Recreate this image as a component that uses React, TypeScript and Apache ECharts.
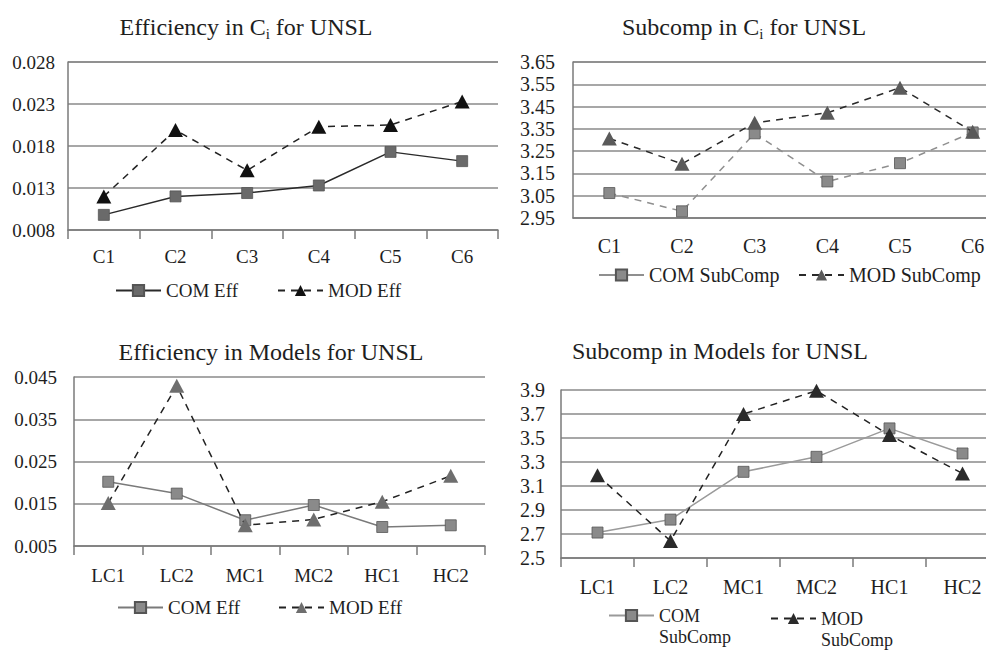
import React, { useEffect, useRef } from 'react';
import * as echarts from 'echarts';

// ---- Data ----
const ciCategories = ['C1', 'C2', 'C3', 'C4', 'C5', 'C6'];
const modelCategories = ['LC1', 'LC2', 'MC1', 'MC2', 'HC1', 'HC2'];

const effCiCom = [0.0098, 0.012, 0.0124, 0.0133, 0.0173, 0.0162];
const effCiMod = [0.012, 0.0199, 0.0151, 0.0203, 0.0205, 0.0233];
const effCiTicks = [0.008, 0.013, 0.018, 0.023, 0.028];

const subCiCom = [3.062, 2.98, 3.33, 3.114, 3.196, 3.334];
const subCiMod = [3.307, 3.193, 3.377, 3.422, 3.535, 3.337];
const subCiTicks = [2.95, 3.05, 3.15, 3.25, 3.35, 3.45, 3.55, 3.65];

const effModelCom = [0.0202, 0.0174, 0.0111, 0.0147, 0.0095, 0.0099];
const effModelMod = [0.0152, 0.0429, 0.0099, 0.0113, 0.0155, 0.0216];
const effModelTicks = [0.005, 0.015, 0.025, 0.035, 0.045];

const subModelCom = [2.712, 2.82, 3.218, 3.343, 3.58, 3.371];
const subModelMod = [3.19, 2.642, 3.7, 3.894, 3.524, 3.204];
const subModelTicks = [2.5, 2.7, 2.9, 3.1, 3.3, 3.5, 3.7, 3.9];

const FONT = 'Liberation Serif, DejaVu Serif, serif';
const TEXT = '#1e1e1e';
const GRID = '#8a8a8a';

type Cfg = {
  title: string;
  titleX: number;
  titleTop: number;
  categories: string[];
  ticks: number[];
  digits: number;
  grid: { left: number; top: number; width: number; height: number };
  labelSize: number;
  xMargin: number;
  yMargin: number;
  showTicks: boolean;
  com: { name: string; data: number[]; symbolColor: string; lineColor: string; dashed: boolean };
  mod: { name: string; data: number[]; symbolColor: string; lineColor: string };
  legendTop: [number, number];
  legendLeft: [number, number];
  legendSize: number;
  legendFormatter?: (n: string) => string;
  legendLineHeight?: number;
};

function makeOption(c: Cfg) {
  const min = c.ticks[0];
  const max = c.ticks[c.ticks.length - 1];
  const interval = c.ticks[1] - c.ticks[0];
  const legendText: any = {
    fontFamily: FONT,
    fontSize: c.legendSize,
    color: TEXT,
  };
  if (c.legendLineHeight) legendText.lineHeight = c.legendLineHeight;
  const legendBase = {
    itemWidth: 45,
    itemHeight: 14,
    itemGap: 6,
    textStyle: legendText,
    formatter: c.legendFormatter,
  };
  return {
    animation: false,
    title: {
      text: c.title,
      left: c.titleX,
      top: c.titleTop,
      textAlign: 'center',
      textStyle: {
        fontFamily: FONT,
        fontSize: 24,
        fontWeight: 'normal',
        color: TEXT,
        lineHeight: 28,
        rich: {
          sub: { fontFamily: FONT, fontSize: 15, lineHeight: 16, verticalAlign: 'bottom', color: TEXT },
        },
      },
    },
    grid: { ...c.grid, containLabel: false },
    xAxis: {
      type: 'category',
      data: c.categories,
      boundaryGap: true,
      axisLine: { show: true, lineStyle: { color: '#7a7a7a', width: 1.5 } },
      axisTick: { show: c.showTicks, length: 9, lineStyle: { color: '#7a7a7a', width: 1.5 } },
      axisLabel: { margin: c.xMargin, fontFamily: FONT, fontSize: c.labelSize, color: TEXT },
      splitLine: { show: false },
    },
    yAxis: {
      type: 'value',
      min,
      max,
      interval,
      axisLine: { show: true, lineStyle: { color: '#7a7a7a', width: 1.5 } },
      axisTick: { show: false },
      splitLine: { show: true, lineStyle: { color: GRID, width: 1.5 } },
      axisLabel: {
        margin: c.yMargin,
        fontFamily: FONT,
        fontSize: c.labelSize,
        color: TEXT,
        formatter: (v: number) => v.toFixed(c.digits),
      },
    },
    legend: [
      {
        ...legendBase,
        top: c.legendTop[0],
        left: c.legendLeft[0],
        data: [{ name: c.com.name, lineStyle: { type: 'solid' } }],
      },
      {
        ...legendBase,
        top: c.legendTop[1],
        left: c.legendLeft[1],
        data: [c.mod.name],
      },
    ],
    series: [
      {
        name: c.com.name,
        type: 'line',
        data: c.com.data,
        symbol: 'rect',
        symbolSize: 11,
        itemStyle: { color: c.com.symbolColor, borderColor: '#555', borderWidth: 0.8 },
        lineStyle: { color: c.com.lineColor, width: 1.5, type: c.com.dashed ? [7, 6] : 'solid' },
        z: 2,
      },
      {
        name: c.mod.name,
        type: 'line',
        data: c.mod.data,
        symbol: 'triangle',
        symbolSize: [15, 14],
        itemStyle: { color: c.mod.symbolColor },
        lineStyle: { color: c.mod.lineColor, width: 1.5, type: [7, 6] },
        z: 3,
      },
    ],
  };
}

const cfgA: Cfg = {
  title: 'Efficiency in C{sub|i} for UNSL',
  titleX: 241,
  titleTop: 8,
  categories: ciCategories,
  ticks: effCiTicks,
  digits: 3,
  grid: { left: 68, top: 62, width: 430, height: 168 },
  labelSize: 19,
  xMargin: 17,
  yMargin: 13,
  showTicks: true,
  com: { name: 'COM Eff', data: effCiCom, symbolColor: '#6a6a6a', lineColor: '#2a2a2a', dashed: false },
  mod: { name: 'MOD Eff', data: effCiMod, symbolColor: '#111111', lineColor: '#222222' },
  legendTop: [276, 276],
  legendLeft: [110, 272],
  legendSize: 19,
};

const cfgB: Cfg = {
  title: 'Subcomp in C{sub|i} for UNSL',
  titleX: 246,
  titleTop: 8,
  categories: ciCategories,
  ticks: subCiTicks,
  digits: 2,
  grid: { left: 80, top: 62, width: 436, height: 156 },
  labelSize: 20,
  xMargin: 18,
  yMargin: 18,
  showTicks: false,
  com: { name: 'COM SubComp', data: subCiCom, symbolColor: '#8a8a8a', lineColor: '#8f8f8f', dashed: true },
  mod: { name: 'MOD SubComp', data: subCiMod, symbolColor: '#5a5a5a', lineColor: '#2a2a2a' },
  legendTop: [260, 260],
  legendLeft: [100, 300],
  legendSize: 20,
};

const cfgC: Cfg = {
  title: 'Efficiency in Models for UNSL',
  titleX: 266,
  titleTop: 13,
  categories: modelCategories,
  ticks: effModelTicks,
  digits: 3,
  grid: { left: 74, top: 57, width: 411, height: 169 },
  labelSize: 19,
  xMargin: 20,
  yMargin: 17,
  showTicks: true,
  com: { name: 'COM Eff', data: effModelCom, symbolColor: '#8a8a8a', lineColor: '#7a7a7a', dashed: false },
  mod: { name: 'MOD Eff', data: effModelMod, symbolColor: '#6e6e6e', lineColor: '#222222' },
  legendTop: [273, 273],
  legendLeft: [112, 273],
  legendSize: 19,
};

const cfgD: Cfg = {
  title: 'Subcomp in Models for UNSL',
  titleX: 222,
  titleTop: 12,
  categories: modelCategories,
  ticks: subModelTicks,
  digits: 1,
  grid: { left: 68, top: 70, width: 438, height: 168 },
  labelSize: 20,
  xMargin: 19,
  yMargin: 16,
  showTicks: true,
  com: { name: 'COM SubComp', data: subModelCom, symbolColor: '#8a8a8a', lineColor: '#9a9a9a', dashed: false },
  mod: { name: 'MOD SubComp', data: subModelMod, symbolColor: '#2a2a2a', lineColor: '#222222' },
  legendTop: [259, 262],
  legendLeft: [110, 272],
  legendSize: 18,
  legendFormatter: (n: string) => '\n' + n.replace(' ', '\n'),
  legendLineHeight: 21,
};

function ChartBox({ cfg, style }: { cfg: Cfg; style: React.CSSProperties }) {
  const ref = useRef<HTMLDivElement>(null);
  useEffect(() => {
    if (!ref.current) return;
    const chart = echarts.init(ref.current, null, { renderer: 'svg' });
    chart.setOption(makeOption(cfg) as any);
    return () => chart.dispose();
  }, [cfg]);
  return <div ref={ref} style={{ position: 'absolute', ...style }} />;
}

export default function App() {
  return (
    <div
      style={{
        position: 'fixed',
        left: 0,
        top: 0,
        width: 986,
        height: 650,
        overflow: 'hidden',
        background: '#ffffff',
      }}
    >
      <ChartBox cfg={cfgA} style={{ left: 0, top: 0, width: 505, height: 320 }} />
      <ChartBox cfg={cfgB} style={{ left: 493, top: 0, width: 540, height: 320 }} />
      <ChartBox cfg={cfgC} style={{ left: 0, top: 320, width: 493, height: 330 }} />
      <ChartBox cfg={cfgD} style={{ left: 493, top: 320, width: 540, height: 330 }} />
    </div>
  );
}
